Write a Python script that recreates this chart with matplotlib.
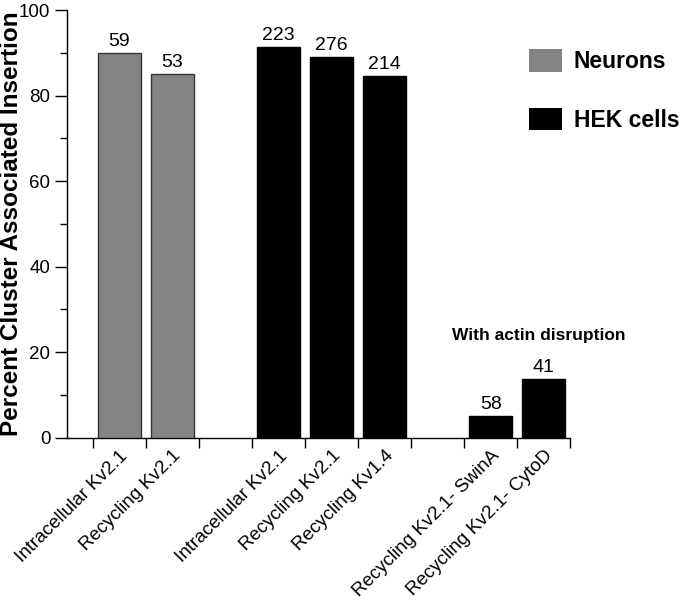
import numpy as np
import matplotlib.pyplot as plt
from matplotlib.patches import Patch

plt.rcParams['font.family'] = ['Liberation Sans', 'DejaVu Sans']

# ── data ─────────────────────────────────────────────────────────────────────
labels = [
    "Intracellular Kv2.1", "Recycling Kv2.1", "",
    "Intracellular Kv2.1", "Recycling Kv2.1", "Recycling Kv1.4", "",
    "Recycling Kv2.1- SwinA", "Recycling Kv2.1- CytoD",
]
values = [90.0, 85.0, np.nan, 91.3, 89.0, 84.6, np.nan, 5.1, 13.7]
counts = ["59", "53", "", "223", "276", "214", "", "58", "41"]
groups = ["Neurons", "Neurons", "", "HEK cells", "HEK cells", "HEK cells", "",
          "HEK cells", "HEK cells"]

GROUP_COLORS = {"Neurons": "#848484", "HEK cells": "#000000"}
GROUP_EDGES = {"Neurons": "#333333", "HEK cells": "#000000"}

# ── figure ───────────────────────────────────────────────────────────────────
fig = plt.figure(figsize=(6.83, 6.04), dpi=100)
ax = fig.add_axes([0.098, 0.2753, 0.737, 0.708])

x = np.arange(len(labels))
for xi, v, g, n in zip(x, values, groups, counts):
    if np.isnan(v):
        continue
    ax.bar(xi, v, width=0.81, color=GROUP_COLORS[g], edgecolor=GROUP_EDGES[g],
           linewidth=1.0, zorder=3)
    ax.text(xi, v + 0.7, n, ha="center", va="bottom", fontsize=14)

ax.text(7.9, 24.0, "With actin disruption", ha="center", va="center",
        fontsize=12.5, fontweight="bold")

# ── axes ─────────────────────────────────────────────────────────────────────
ax.set_xlim(-0.99, 8.5)
ax.set_ylim(0, 100)
ax.spines["top"].set_visible(False)
ax.spines["right"].set_visible(False)
for s in ("left", "bottom"):
    ax.spines[s].set_linewidth(1.0)

ax.set_yticks([0, 20, 40, 60, 80, 100])
ax.set_yticks([10, 30, 50, 70, 90], minor=True)
ax.tick_params(axis="y", which="major", length=9, width=1, labelsize=13.5, pad=3)
ax.tick_params(axis="y", which="minor", length=5, width=1)

# category labels on centres, tick marks on the boundaries
ax.set_xticks(x)
ax.set_xticklabels(labels, rotation=45, ha="right", rotation_mode="anchor",
                   fontsize=13.5)
ax.tick_params(axis="x", which="major", length=0, pad=7)
ax.set_xticks(np.arange(-0.5, 9.0, 1.0), minor=True)
ax.tick_params(axis="x", which="minor", length=7, width=1)

fig.text(12 / 683, 1 - 436 / 604, "Percent Cluster Associated Insertion",
         rotation=90, ha="center", va="bottom", fontsize=17.5,
         fontweight="bold")

# ── legend ───────────────────────────────────────────────────────────────────
handles = [Patch(facecolor=GROUP_COLORS[g], edgecolor="none", label=g)
           for g in ("Neurons", "HEK cells")]
leg = fig.legend(handles=handles, loc="upper left",
                 bbox_to_anchor=(529 / 683, 1 - 49 / 604),
                 frameon=False, borderpad=0, borderaxespad=0,
                 handlelength=1.45, handleheight=1.15, handletextpad=0.5,
                 labelspacing=1.5, prop={"size": 16.5, "weight": "bold"})

fig.savefig("out.png", dpi=100)
